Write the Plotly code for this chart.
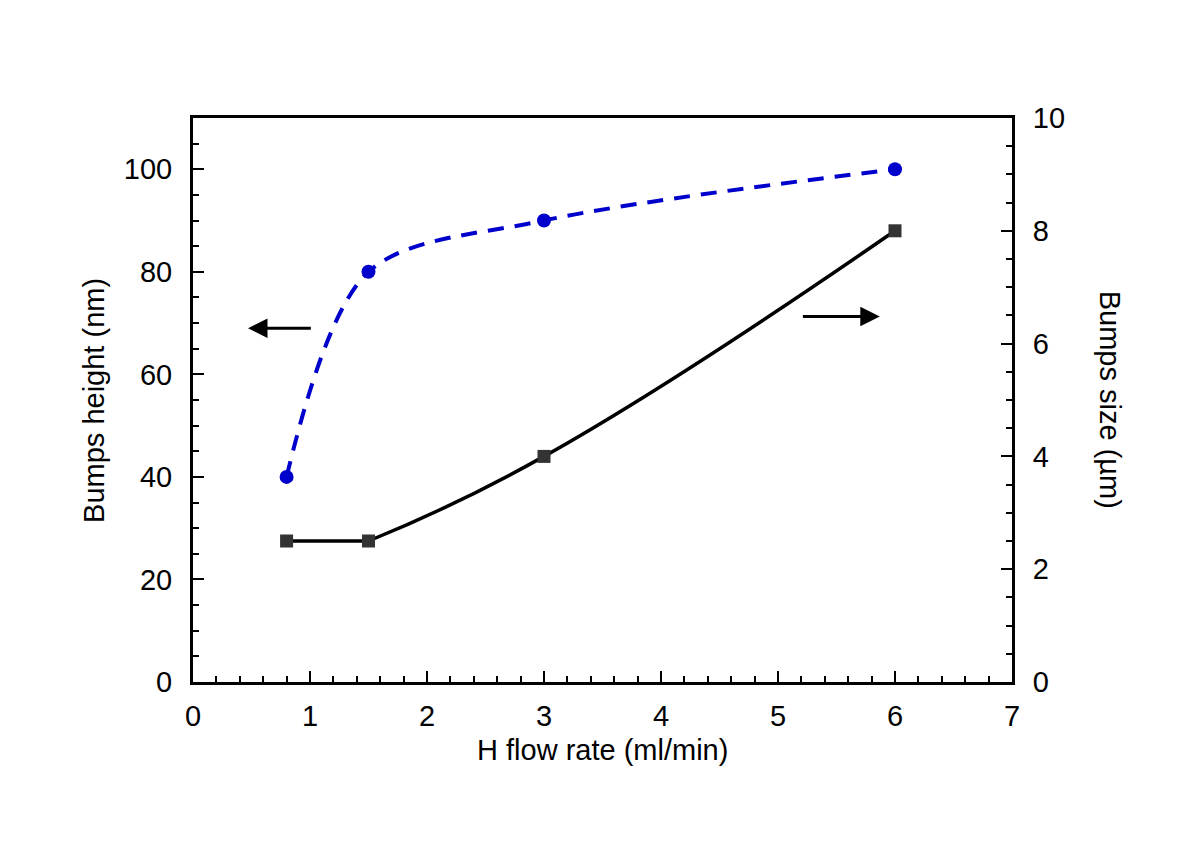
import plotly.graph_objects as go

# H flow rate (ml/min)
flow_rate = [0.8, 1.5, 3, 6]
# bumps height (nm), left axis
bump_height = [40, 80, 90, 100]
# bumps size (um), right axis
bump_size = [2.5, 2.5, 4, 8]

FONT = "Liberation Sans, Arial, sans-serif"
BLUE = "#0000cc"
DARK = "#333333"
FS = 29

fig = go.Figure()

# height: smooth dashed curve
fig.add_trace(go.Scatter(
    x=flow_rate, y=bump_height, mode="lines",
    line=dict(color=BLUE, width=4, dash="16px,11px", shape="spline", smoothing=0.9),
    yaxis="y", showlegend=False, hoverinfo="skip"))
fig.add_trace(go.Scatter(
    x=flow_rate, y=bump_height, mode="markers",
    marker=dict(color=BLUE, size=14, symbol="circle"),
    yaxis="y", showlegend=False))

# size: straight first segment, then smooth
fig.add_trace(go.Scatter(
    x=flow_rate[:2], y=bump_size[:2], mode="lines",
    line=dict(color="black", width=3.5),
    yaxis="y2", showlegend=False, hoverinfo="skip"))
fig.add_trace(go.Scatter(
    x=flow_rate[1:], y=bump_size[1:], mode="lines",
    line=dict(color="black", width=3.5, shape="spline", smoothing=1.3),
    yaxis="y2", showlegend=False, hoverinfo="skip"))
fig.add_trace(go.Scatter(
    x=flow_rate, y=bump_size, mode="markers",
    marker=dict(color=DARK, size=13, symbol="square"),
    yaxis="y2", showlegend=False))

# arrows pointing to each series' axis
fig.add_annotation(x=0.47, y=69, ax=1.02, ay=69, xref="x", yref="y", axref="x", ayref="y",
                   showarrow=True, arrowhead=2, arrowsize=1.3, arrowwidth=3, arrowcolor="black", text="")
fig.add_annotation(x=5.87, y=6.48, ax=5.2, ay=6.48, xref="x", yref="y2", axref="x", ayref="y2",
                   showarrow=True, arrowhead=2, arrowsize=1.3, arrowwidth=3, arrowcolor="black", text="")

# axis titles
title_font = dict(size=FS, color="black", family=FONT)
fig.add_annotation(x=0.5, y=-0.121, xref="paper", yref="paper", text="H flow rate (ml/min)",
                   showarrow=False, font=title_font, xanchor="center", yanchor="middle")
fig.add_annotation(x=-0.121, y=0.5, xref="paper", yref="paper", text="Bumps height (nm)",
                   textangle=-90, showarrow=False, font=title_font, xanchor="center", yanchor="middle")
fig.add_annotation(x=1.12, y=0.5, xref="paper", yref="paper", text="Bumps size (µm)",
                   textangle=90, showarrow=False, font=title_font, xanchor="center", yanchor="middle")

axis_common = dict(
    showline=True, linecolor="black", linewidth=3, showgrid=False, zeroline=False,
    ticks="inside", tickcolor="black", tickwidth=2, ticklen=11,
    tickfont=dict(size=FS, color="black", family=FONT),
)
minor_common = dict(ticks="inside", ticklen=6, tickwidth=2, tickcolor="black")

fig.update_layout(
    width=1184, height=842,
    paper_bgcolor="white", plot_bgcolor="white",
    margin=dict(l=185, r=180, t=110, b=168),
    font=dict(family=FONT, color="black"),
    xaxis=dict(range=[0, 7], dtick=1, mirror=True, ticklabelstandoff=6,
               minor=dict(dtick=0.2, **minor_common), **axis_common),
    yaxis=dict(range=[0, 110], dtick=20, ticklabelstandoff=12,
               minor=dict(dtick=5, **minor_common), **axis_common),
    yaxis2=dict(range=[0, 10], dtick=2, overlaying="y", side="right", ticklabelstandoff=12,
                minor=dict(dtick=0.5, **minor_common), **axis_common),
)

fig.write_html("out.html")
